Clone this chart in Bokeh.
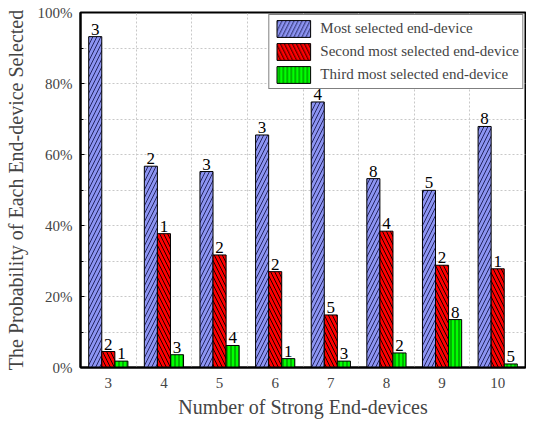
from bokeh.plotting import figure
from bokeh.models import ColumnDataSource, FixedTicker, Range1d
from bokeh.transform import dodge
from bokeh.core.properties import value
from bokeh.embed import file_html
from bokeh.resources import INLINE

# ---- data ----
n_strong = [3, 4, 5, 6, 7, 8, 9, 10]
most = [93.2, 56.7, 55.2, 65.5, 74.8, 53.2, 49.9, 67.9]
second = [4.5, 37.7, 31.7, 27.0, 14.8, 38.4, 28.8, 27.8]
third = [1.8, 3.6, 6.2, 2.5, 1.8, 4.1, 13.5, 1.0]
most_id = ["3", "2", "3", "3", "4", "8", "5", "8"]
second_id = ["2", "1", "2", "2", "5", "4", "2", "1"]
third_id = ["1", "3", "4", "1", "3", "2", "8", "5"]
y_ticks = [0, 20, 40, 60, 80, 100]
y_tick_labels = ["0%", "20%", "40%", "60%", "80%", "100%"]
series_names = ["Most selected end-device",
                "Second most selected end-device",
                "Third most selected end-device"]

FONT = "Liberation Serif"
BW = 0.235

src = ColumnDataSource(dict(x=n_strong, most=most, second=second, third=third,
                            most_id=most_id, second_id=second_id, third_id=third_id))

p = figure(width=526, height=420, output_backend="svg", toolbar_location=None,
           x_range=Range1d(2.5, 10.5), y_range=Range1d(0, 100),
           min_border_left=80, min_border_right=1, min_border_top=12, min_border_bottom=0)

styles = [
    ("most", "most_id", -BW, "#8C94F2", "right_diagonal_line", "#1A1A50", 8, 0.9),
    ("second", "second_id", 0.0, "#FF0000", "left_diagonal_line", "#000000", 8, 0.9),
    ("third", "third_id", BW, "#00FF00", "vertical_line", "#000000", 4, 0.6),
]
for (col, idcol, off, color, hatch, hcol, hs, hw), name in zip(styles, series_names):
    p.vbar(x=dodge("x", off), top=col, width=BW, source=src,
           fill_color=color, line_color="black", line_width=1,
           hatch_pattern=hatch, hatch_color=hcol, hatch_scale=hs, hatch_weight=hw,
           legend_label=name)
    p.text(x=dodge("x", off), y=col, text=idcol, source=src,
           text_font=value(FONT), text_font_size="17px", text_align="center",
           text_baseline="bottom", y_offset=-2, text_color="black")

# axes
p.yaxis.ticker = FixedTicker(ticks=y_ticks, minor_ticks=[10, 30, 50, 70, 90])
p.yaxis.major_label_overrides = {t: l for t, l in zip(y_ticks, y_tick_labels)}
p.xaxis.ticker = FixedTicker(ticks=n_strong)
p.xaxis.axis_label = "Number of Strong End-devices"
p.yaxis.axis_label = "The Probability of Each End-device Selected"
for ax in (p.xaxis[0], p.yaxis[0]):
    ax.axis_label_text_font = FONT
    ax.axis_label_text_font_style = "normal"
    ax.axis_label_text_font_size = "20px"
    ax.major_label_text_font = FONT
    ax.major_label_text_font_size = "15px"
    ax.axis_line_width = 2
    ax.axis_line_color = "black"
p.xaxis.major_tick_line_color = None
p.xaxis.minor_tick_line_color = None
p.xaxis.major_label_standoff = 4
p.xaxis.axis_label_standoff = 5
p.yaxis.major_tick_in = 4
p.yaxis.major_tick_out = 0
p.yaxis.minor_tick_in = 3
p.yaxis.minor_tick_out = 0
p.yaxis.major_label_standoff = 8
p.yaxis.axis_label_standoff = 8

# grids
p.xgrid.ticker = FixedTicker(ticks=[3.5, 4.5, 5.5, 6.5, 7.5, 8.5, 9.5])
p.ygrid.ticker = FixedTicker(ticks=[10, 20, 30, 40, 50, 60, 70, 80, 90])
for g in (p.xgrid[0], p.ygrid[0]):
    g.grid_line_color = "#C8C8C8"
    g.grid_line_dash = "2 2"
    g.grid_line_width = 1

p.outline_line_color = "black"
p.outline_line_width = 2
p.outline_line_alpha = 1

# legend
lg = p.legend[0]
lg.location = "top_right"
lg.margin = 2
lg.padding = 3
lg.spacing = 2
lg.glyph_width = 42
lg.glyph_height = 21
lg.label_standoff = 6
lg.label_text_font = FONT
lg.label_text_font_size = "15px"
lg.border_line_color = "black"
lg.border_line_width = 1
lg.background_fill_alpha = 1

open("out.html", "w").write(file_html(p, INLINE))
